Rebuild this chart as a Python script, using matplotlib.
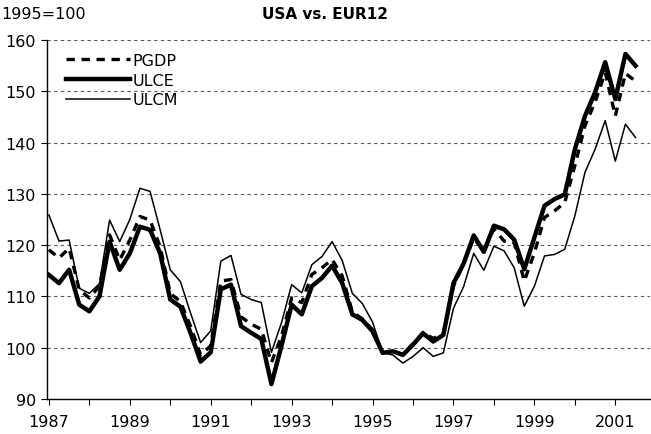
import matplotlib
matplotlib.use("Agg")
import matplotlib.pyplot as plt

# quarterly index values, 1987Q1 .. 2001Q3 (1995=100)
years = [str(y) for y in range(1987, 2002)]

pgdp = [119.1, 117.5, 119.4, 111.3, 109.7, 112.0, 122.0, 117.1, 121.0, 125.6,
        124.9, 119.7, 110.6, 109.0, 104.2, 98.6, 100.4, 113.0, 113.3, 106.0,
        104.6, 103.6, 97.1, 102.3, 109.7, 108.8, 114.3, 115.6, 117.2, 114.0,
        107.0, 105.6, 103.5, 99.0, 99.3, 98.7, 100.8, 103.0, 101.8, 102.8,
        112.0, 116.4, 121.3, 119.0, 123.2, 120.8, 120.5, 113.0, 118.5, 125.4,
        126.7, 128.3, 135.5, 143.3, 147.9, 153.7, 145.2, 153.5, 152.0]

ulce = [114.2, 112.6, 115.2, 108.4, 107.1, 110.0, 120.7, 115.2, 118.4, 123.6,
        123.0, 118.4, 109.4, 108.0, 102.9, 97.3, 99.1, 111.4, 112.3, 104.2,
        102.9, 101.7, 92.9, 100.4, 108.4, 106.5, 112.0, 113.6, 116.0, 112.6,
        106.5, 105.4, 103.2, 99.0, 99.3, 98.6, 100.6, 102.8, 101.2, 102.5,
        112.6, 116.4, 121.9, 118.7, 123.8, 123.1, 121.1, 115.3, 121.5, 127.7,
        129.0, 129.9, 138.7, 145.2, 149.8, 155.7, 148.5, 157.3, 155.0]

ulcm = [125.9, 120.8, 121.0, 111.6, 110.6, 112.5, 124.9, 120.7, 125.0, 131.1,
        130.5, 123.0, 115.2, 112.9, 106.8, 101.0, 103.3, 116.9, 118.0, 110.4,
        109.4, 108.8, 99.1, 104.9, 112.3, 110.7, 116.2, 117.8, 120.7, 117.0,
        110.6, 108.6, 105.0, 99.0, 98.6, 97.0, 98.3, 100.0, 98.3, 99.0,
        107.7, 111.9, 118.4, 115.1, 119.8, 118.9, 115.6, 108.1, 112.0, 117.9,
        118.2, 119.2, 125.7, 134.2, 138.7, 144.3, 136.4, 143.6, 141.0]

quarters = list(range(len(pgdp)))

plt.rcParams['font.family'] = ['DejaVu Sans']

fig = plt.figure(figsize=(6.51, 4.35), dpi=100)
ax = fig.add_axes([0.072, 0.0805, 0.926, 0.825])

ax.plot(quarters, ulcm, color='black', lw=1.1, label='ULCM', zorder=3)
ax.plot(quarters, ulce, color='black', lw=3.2, label='ULCE', zorder=4)
ax.plot(quarters, pgdp, color='black', lw=2.4, dashes=(2.5, 2.0), label='PGDP', zorder=5)

ax.set_ylim(90, 160)
ax.set_yticks(range(90, 161, 10))
ax.set_xlim(-0.2, 59.4)
ax.set_xticks(range(0, 4 * len(years), 4))
ax.set_xticklabels([y if i % 2 == 0 else '' for i, y in enumerate(years)])

# dashed gridlines (not at the bottom axis)
for v in range(100, 161, 10):
    ax.axhline(v, color='0.35', lw=0.8, ls=(0, (3, 3)), zorder=1)

for side in ['top', 'right']:
    ax.spines[side].set_visible(False)
for side in ['left', 'bottom']:
    ax.spines[side].set_linewidth(1.0)
ax.tick_params(axis='both', direction='out', length=4, width=0.8, labelsize=11.5)
ax.tick_params(axis='x', pad=7)
ax.tick_params(axis='y', pad=4)

handles, labels = ax.get_legend_handles_labels()
order = [2, 1, 0]
ax.legend([handles[i] for i in order], [labels[i] for i in order],
          loc='upper left', frameon=False, fontsize=11.5, handlelength=4.0,
          handletextpad=0.2, labelspacing=0.3, borderaxespad=0.4,
          bbox_to_anchor=(0.01, 1.0))

fig.text(0.002, 0.985, '1995=100', fontsize=11.5, va='top', ha='left')
fig.text(0.5, 0.985, 'USA vs. EUR12', fontsize=11, fontweight='bold',
         va='top', ha='center')

fig.savefig('out.png', dpi=100)
